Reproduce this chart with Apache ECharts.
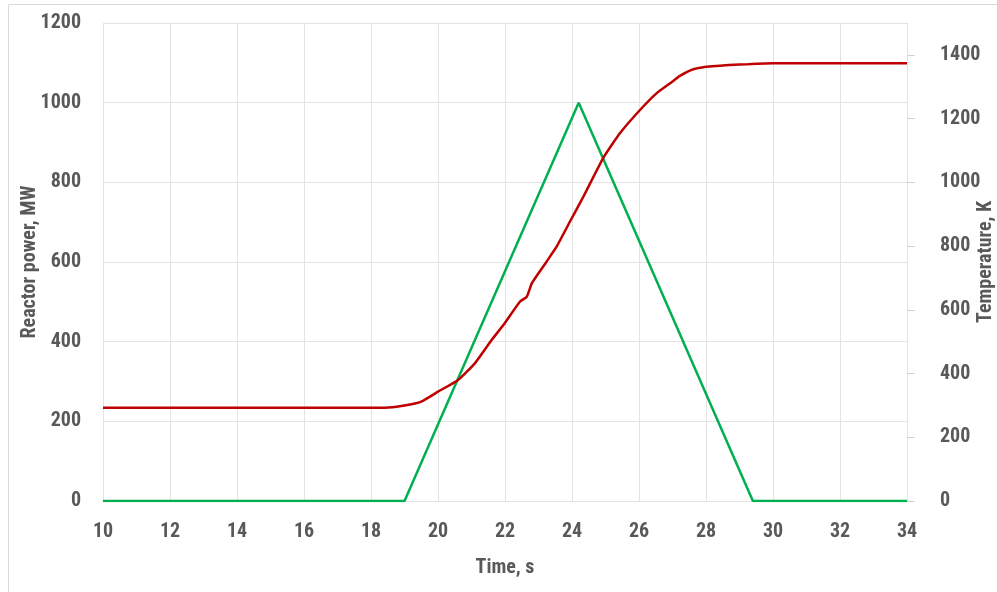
<!DOCTYPE html>
<html>
<head>
<meta charset="utf-8">
<script src="https://cdn.jsdelivr.net/npm/echarts@6/dist/echarts.min.js"></script>
<style>
  html, body { margin: 0; padding: 0; background: #ffffff; }
  #chart { width: 997px; height: 592px; }
</style>
</head>
<body>
<div id="chart"></div>
<script>
// Reactor power pulse (MW)
const powerTime = [10, 19.0, 24.2, 29.4, 34];
const powerMW   = [0,  0,    1000, 0,    0];

// Fuel temperature response (K)
const tempTime = [10, 18.4, 19.0, 19.5, 20.0, 20.6, 21.1, 21.6, 21.95, 22.45, 22.65, 22.8, 23.24, 23.54, 23.94, 24.34, 24.93, 25.43, 26.03, 26.53, 26.93, 27.22, 27.62, 28.02, 30.0, 34];
const tempK    = [293, 293, 300,  312,  343,  380,  432,  505,  552,   626,   641,   683,  751,   798,   877,   955,   1076,  1154,  1227,  1280,  1311,  1334,  1355,  1363,  1374, 1374];

const xTicks = { min: 10, max: 34, step: 2 };
const powerTicks = { min: 0, max: 1200, step: 200 };
const tempTicks = { min: 0, max: 1500, step: 200, lastLabel: 1400 };
const tempTickValues = [0, 200, 400, 600, 800, 1000, 1200, 1400];

const FONT = 'Roboto, "DejaVu Sans Condensed", sans-serif';
const WEIGHT = 'bold condensed';
const TEXT = '#595959';
const GRID = '#e3e3e3';

const zip = (a, b) => a.map((v, i) => [v, b[i]]);
const plain = v => String(v);

const labelStyle = { fontFamily: FONT, fontWeight: WEIGHT, fontSize: 20, color: TEXT };
const nameStyle = { fontFamily: FONT, fontWeight: WEIGHT, fontSize: 20, color: TEXT };

const chart = echarts.init(document.getElementById('chart'), null, { renderer: 'canvas' });
chart.setOption({
  animation: false,
  backgroundColor: '#ffffff',
  grid: { left: 103, right: 90, top: 23, bottom: 91, containLabel: false, outerBoundsMode: 'none' },
  graphic: [
    { type: 'line', shape: { x1: 8.5, y1: 4.5, x2: 8.5, y2: 592 }, style: { stroke: '#d9d9d9', lineWidth: 1 } },
    { type: 'line', shape: { x1: 8.5, y1: 4.5, x2: 997, y2: 4.5 }, style: { stroke: '#d9d9d9', lineWidth: 1 } }
  ],
  xAxis: {
    type: 'value',
    min: xTicks.min, max: xTicks.max, interval: xTicks.step,
    name: 'Time, s',
    nameLocation: 'middle',
    nameGap: 57,
    nameMoveOverlap: false,
    nameTextStyle: nameStyle,
    axisLine: { show: true, lineStyle: { color: GRID, width: 1 } },
    axisTick: { show: false },
    axisLabel: Object.assign({ margin: 21, formatter: plain }, labelStyle),
    splitLine: { show: true, lineStyle: { color: GRID, width: 1 } }
  },
  yAxis: [
    {
      type: 'value',
      position: 'left',
      min: powerTicks.min, max: powerTicks.max, interval: powerTicks.step,
      name: 'Reactor power, MW',
      nameLocation: 'middle',
      nameGap: 63,
      nameMoveOverlap: false,
      nameTextStyle: nameStyle,
      axisLine: { show: false },
      axisTick: { show: false },
      axisLabel: Object.assign({ margin: 22, formatter: plain }, labelStyle),
      splitLine: { show: true, lineStyle: { color: GRID, width: 1 } }
    },
    {
      type: 'value',
      position: 'right',
      min: tempTicks.min, max: tempTicks.max, interval: tempTicks.step,
      name: 'Temperature, K',
      nameLocation: 'middle',
      nameGap: 69,
      nameMoveOverlap: false,
      nameTextStyle: nameStyle,
      axisLine: { show: true, lineStyle: { color: GRID, width: 1 } },
      axisTick: { show: true, length: 8, lineStyle: { color: '#d0d0d0' }, customValues: tempTickValues },
      axisLabel: Object.assign({
        margin: 33,
        align: 'left',
        showMaxLabel: false,
        formatter: v => (v > tempTicks.lastLabel ? '' : String(v))
      }, labelStyle),
      splitLine: { show: false }
    }
  ],
  series: [
    {
      name: 'Reactor power',
      type: 'line',
      yAxisIndex: 0,
      data: zip(powerTime, powerMW),
      showSymbol: false,
      lineStyle: { color: '#00b050', width: 2.5 },
      itemStyle: { color: '#00b050' },
      z: 3
    },
    {
      name: 'Temperature',
      type: 'line',
      yAxisIndex: 1,
      data: zip(tempTime, tempK),
      smooth: 0.15,
      showSymbol: false,
      lineStyle: { color: '#c00000', width: 2.5 },
      itemStyle: { color: '#c00000' },
      z: 4
    }
  ]
});
</script>
</body>
</html>
